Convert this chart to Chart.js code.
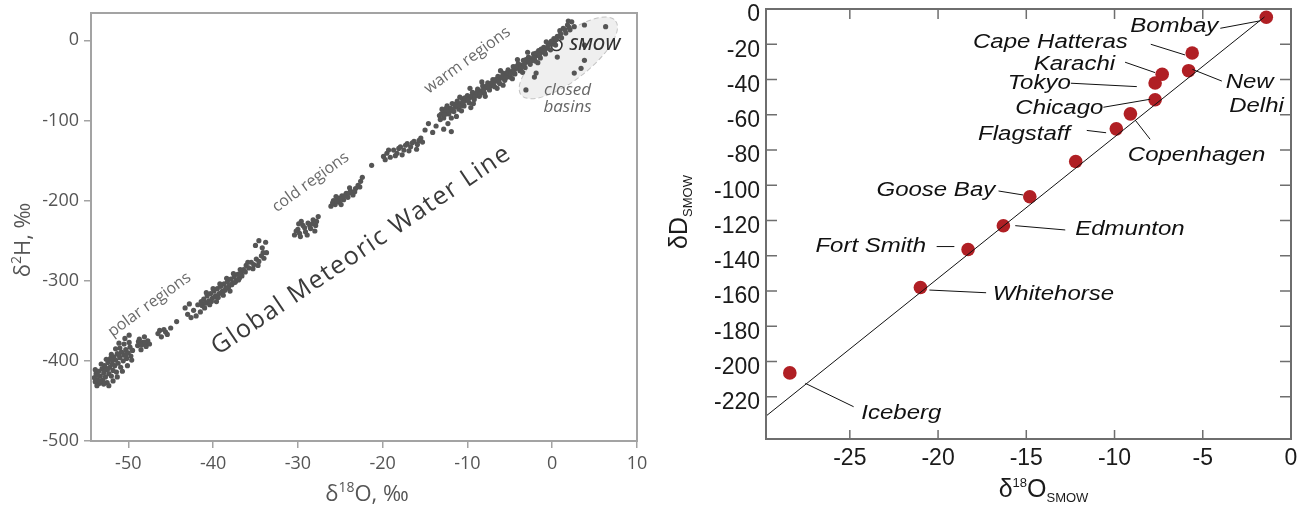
<!DOCTYPE html>
<html>
<head>
<meta charset="utf-8">
<script src="https://cdn.jsdelivr.net/npm/chart.js@4.4.0/dist/chart.umd.min.js"></script>
<style>
  body { margin: 0; background: #fff; }
  #wrap { position: relative; width: 1313px; height: 509px; }
  canvas { position: absolute; top: 0; }
  #gmwl { left: 0; }
  #cities { left: 660px; }
</style>
</head>
<body>
<div id="wrap">
  <canvas id="gmwl" width="660" height="509"></canvas>
  <canvas id="cities" width="653" height="509"></canvas>
</div>
<script>
// ---------- left panel: precipitation samples, d18O vs d2H ----------
const polarPts = [
  [-54.0,-421],[-53.9,-426],[-53.8,-416],[-53.6,-424],[-53.5,-413],[-53.4,-428],[-53.3,-419],[-53.1,-410],
  [-53.0,-424],[-52.9,-415],[-52.8,-406],[-52.7,-420],[-52.6,-411],[-52.5,-427],[-52.4,-402],[-52.3,-416],
  [-52.2,-408],[-52.1,-397],[-52.0,-419],[-51.9,-404],[-51.8,-412],[-51.7,-395],[-51.6,-406],[-51.5,-399],
  [-51.4,-414],[-51.3,-391],[-51.2,-403],[-51.1,-378],[-51.0,-396],[-50.9,-408],[-50.8,-389],[-50.6,-400],
  [-50.5,-393],[-50.4,-372],[-50.3,-386],[-50.2,-397],[-50.0,-390],[-49.9,-368],[-49.8,-383],[-49.7,-394],
  [-49.5,-387],[-48.9,-381],[-48.7,-373],[-48.5,-386],[-48.3,-377],[-48.1,-370],[-47.9,-382],[-47.7,-375],
  [-46.5,-366],[-46.1,-370],[-45.8,-361],[-45.4,-367],[-45.0,-359],[-44.3,-351],
  [-53.7,-431],[-53.2,-404],[-52.9,-429],[-52.6,-398],[-52.3,-431],[-52.0,-392],[-51.8,-425],[-51.5,-385],
  [-51.3,-420],[-51.0,-384],[-50.7,-413],[-50.5,-379],[-50.1,-406],[-49.9,-377],[-49.6,-399],[-53.9,-411],
  [-53.6,-418],[-53.3,-425],[-52.4,-410],[-51.9,-399],[-51.1,-393],[-50.3,-392],[-48.8,-376],[-48.4,-380],
  [-48.0,-377],[-47.5,-379],[-46.3,-362],[-45.6,-364]
];
const coldPts = [
  [-43.3,-334],[-43.0,-342],[-42.8,-329],[-42.6,-346],[-42.3,-337],[-42.0,-344],[-41.8,-330],[-41.5,-339],
  [-41.3,-331],[-41.1,-323],[-40.9,-328],[-40.7,-319],[-40.5,-325],[-40.3,-316],[-40.1,-322],[-39.9,-313],
  [-39.7,-319],[-39.5,-310],[-39.3,-316],[-39.1,-307],[-38.9,-313],[-38.7,-304],[-38.5,-309],[-38.3,-301],
  [-38.1,-306],[-37.9,-298],[-37.7,-303],[-37.5,-295],[-37.3,-300],[-37.1,-292],[-36.9,-297],[-36.7,-289],
  [-36.4,-286],[-36.1,-281],[-35.8,-284],[-35.5,-277],[-35.2,-280],[-34.9,-273],[-34.6,-276],[-34.3,-269],
  [-34.0,-272],[-33.7,-265],[-35.0,-256],[-34.6,-250],[-34.2,-259],[-33.8,-252],
  [-41.4,-326],[-41.0,-334],[-40.6,-327],[-40.2,-326],[-39.8,-320],[-39.4,-321],[-39.0,-315],[-38.6,-312],
  [-38.2,-309],[-37.8,-305],[-37.4,-302],[-37.0,-299],[-36.6,-294],[-36.2,-289],[-40.8,-315],[-40.0,-310],
  [-39.2,-304],[-38.4,-297],[-37.6,-291],[-36.8,-286],[-35.9,-277],[-35.3,-285],[-34.7,-281],[-34.1,-265],
  [-40.4,-330],[-39.6,-326],[-38.8,-318],[-38.0,-313],
  [-30.4,-243],[-30.0,-236],[-29.7,-245],[-29.4,-231],[-29.1,-239],[-28.8,-228],[-28.5,-235],[-28.2,-224],
  [-27.9,-231],[-27.6,-220],[-29.6,-226],[-28.0,-238],[-30.2,-238],[-29.8,-241],[-29.2,-234],[-28.6,-231],
  [-28.3,-229],[-27.8,-226],[-29.9,-229],[-28.9,-243],
  [-26.1,-207],[-25.8,-200],[-25.6,-205],[-25.3,-197],[-25.1,-202],[-24.8,-194],[-24.6,-199],[-24.3,-191],
  [-24.1,-196],[-23.8,-188],[-23.5,-193],[-23.2,-185],[-22.9,-181],[-22.6,-176],[-22.4,-171],[-21.3,-156],
  [-25.9,-203],[-25.4,-201],[-25.0,-197],[-24.5,-194],[-24.0,-191],[-23.6,-190],[-23.3,-189],[-24.9,-205],
  [-25.5,-195],[-23.9,-184],[-22.7,-183]
];
const warmPts = [
  [-19.9,-145],[-19.5,-141],[-19.1,-146],[-18.7,-137],[-18.3,-141],[-17.9,-133],[-17.5,-137],[-17.1,-129],
  [-16.7,-133],[-16.3,-126],[-15.9,-130],[-15.5,-122],[-17.7,-143],[-16.0,-136],[-19.7,-149],[-19.3,-137],
  [-18.5,-144],[-18.1,-135],[-17.3,-131],[-16.9,-138],[-16.5,-128],[-15.7,-125],[-15.3,-127],
  [-15.0,-112],[-14.6,-104],[-14.1,-115],[-13.7,-107],[-13.2,-99],[-12.8,-111],[-12.3,-104],[-11.9,-114],
  [-13.3,-94],[-13.0,-86],[-12.8,-97],[-12.6,-89],[-12.4,-82],[-12.2,-92],[-12.0,-85],[-11.8,-79],
  [-11.6,-89],[-11.4,-83],[-11.2,-76],[-11.0,-86],[-10.8,-79],[-10.6,-73],[-10.4,-82],[-10.2,-75],
  [-10.0,-69],[-9.8,-78],[-9.6,-71],[-9.4,-65],[-9.2,-74],[-9.0,-67],[-8.8,-61],[-8.6,-70],
  [-8.4,-63],[-8.2,-57],[-8.0,-66],[-7.8,-59],[-7.6,-53],[-7.4,-62],[-7.2,-55],[-7.0,-49],
  [-6.8,-58],[-6.6,-51],[-6.4,-45],[-6.2,-54],[-6.0,-47],[-5.8,-41],[-5.6,-50],[-5.4,-43],
  [-5.2,-37],[-5.0,-46],[-4.8,-39],[-4.6,-33],[-4.4,-42],[-4.2,-35],[-4.0,-29],[-3.8,-38],
  [-3.6,-31],[-3.4,-25],[-3.2,-34],[-3.0,-27],[-2.8,-21],[-2.6,-30],[-2.4,-23],[-2.2,-17],
  [-2.0,-26],[-1.8,-19],[-1.6,-13],[-1.4,-22],[-1.2,-15],[-1.0,-9],[-0.8,-17],[-0.6,-10],
  [-0.4,-4],[-0.2,-12],[0.0,-5],[0.2,2],[0.4,-6],[0.6,5],[0.9,12],[1.1,3],
  [1.3,15],[1.6,9],[1.8,19],[2.1,13],[2.3,23],[2.6,17],[1.9,24],
  [-12.9,-91],[-11.5,-80],[-10.1,-73],[-8.7,-66],[-7.3,-57],[-6.5,-49],[-5.1,-41],[-3.9,-33],
  [-2.5,-26],[-1.1,-13],[0.3,-1],[-5.8,-56],[-9.6,-84],[-11.3,-95],
  [-13.1,-92],[-12.7,-93],[-12.5,-85],[-12.1,-89],[-11.7,-86],[-11.3,-81],[-10.9,-82],[-10.5,-78],
  [-10.3,-72],[-9.9,-74],[-9.5,-69],[-9.1,-70],[-8.9,-65],[-8.5,-67],[-8.1,-62],[-7.7,-57],
  [-7.5,-60],[-7.1,-53],[-6.9,-56],[-6.7,-49],[-6.3,-51],[-5.9,-45],[-5.5,-47],[-5.3,-40],
  [-4.9,-42],[-4.5,-38],[-4.3,-33],[-3.7,-35],[-3.3,-30],[-3.1,-24],[-2.7,-26],[-2.1,-22],
  [-1.9,-16],[-1.5,-18],[-1.3,-11],[-0.9,-13],[-0.5,-7],[-0.1,-1],[0.5,1],[1.0,8],
  [1.5,13],[2.0,16],[-11.9,-97],[-10.7,-88],[-9.3,-79],[-7.9,-70],[-6.5,-60],[-4.7,-48],
  [-3.5,-40],[-1.7,-28],[-10.9,-71],[-9.7,-60],[-8.3,-52],[-6.1,-38],[-4.1,-24],[-2.9,-15],[-0.7,-2]
];
const basinPts = [
  [3.8,19],[6.3,17],[3.8,-6],[3.8,-25],[3.4,-35],[2.6,-41],[-1.9,-41],[-2.1,-46],[-3.1,-62],[0.6,-21]
];
const smowPt = [0.5, -6];
const leftXTicks = [-50, -40, -30, -20, -10, 0, 10];
const leftYTicks = [0, -100, -200, -300, -400, -500];

// ---------- right panel: station means ----------
const stations = ["Bombay", "Cape Hatteras", "New Delhi", "Karachi", "Tokyo", "Chicago", "Copenhagen",
  "Flagstaff", "", "Goose Bay", "Edmunton", "Fort Smith", "Whitehorse", "Iceberg"];
const stationO = [-1.4, -5.6, -5.8, -7.3, -7.7, -7.7, -9.1, -9.9, -12.2, -14.8, -16.3, -18.3, -21.0, -28.4];
const stationD = [-4.7, -25, -35, -37, -42, -51.5, -59.5, -68, -86.5, -106.5, -123, -136.5, -158, -206.5];
const mwlO = [-29.75, -1.5];
const mwlD = [-231, -4.5];
const rightXTicks = [-25, -20, -15, -10, -5, 0];
const rightYTicks = [0, -20, -40, -60, -80, -100, -120, -140, -160, -180, -200, -220];

// ---------- annotation placement ----------
const regionNotes = [
  { text: "polar regions", x: -47.5, y: -330, angle: -36 },
  { text: "cold regions", x: -28.5, y: -177, angle: -36 },
  { text: "warm regions", x: -10.0, y: -25, angle: -36 }
];
const lineNote = { text: "Global Meteoric Water Line", x: -22.5, y: -262, angle: -34 };
const basinOutline = { x: 1.9, y: -22, rx: 60, ry: 22, angle: -38 };
const basinNote = { lines: ["closed", "basins"], x: 1.8, y: -62, gap: 17.5 };
const smowNote = { text: "SMOW", x: 2.0, y: -6 };

// label offsets in px from each station dot: text anchor + leader line
const callouts = {
  "Bombay":        { tx: -48,   ty: 9.4,  align: "right", lead: [-46, 11, -6, 3.5] },
  "Cape Hatteras": { tx: -64.4, ty: -10.4, align: "right", lead: [-41.4, -8.8, -7.1, 1.9] },
  "New Delhi":     { tx: 37, ty: 12, align: "left", lines: ["New", "Delhi"], gap: 24, indent: 3.5, lead: [3.8, -1.3, 33.2, 10.4] },
  "Karachi":       { tx: -47.1, ty: -9.3, align: "right", lead: [-37.1, -12, -7.1, -1.6] },
  "Tokyo":         { tx: -84.3, ty: 0.2,  align: "right", lead: [-84.3, 0.2, -18.3, 3.6] },
  "Chicago":       { tx: -51.7, ty: 8.5,  align: "right", lead: [-51.7, 7.5, -5, -0.5] },
  "Copenhagen":    { tx: -2.6,  ty: 41.1, align: "left",  lead: [4.7, 6.1, 19.7, 25.4] },
  "Flagstaff":     { tx: -46.2, ty: 5.6,  align: "right", lead: [-29.5, 1.6, -10.2, 3.9] },
  "Goose Bay":     { tx: -34.6, ty: -6.7, align: "right", lead: [-31.3, -5.7, -6.6, -1.7] },
  "Edmunton":      { tx: 71.9,  ty: 3.5,  align: "left",  lead: [11.9, -0.1, 61.9, 4.2] },
  "Fort Smith":    { tx: -42,   ty: -3.6, align: "right", lead: [-31.4, -3, -13.7, -3] },
  "Whitehorse":    { tx: 72.3,  ty: 6.6,  align: "left",  lead: [9, 2.6, 65.7, 5.3] },
  "Iceberg":       { tx: 71.5,  ty: 40.4, align: "left",  lead: [15.5, 10.4, 63.8, 33.8] }
};

const toXY = pts => pts.map(p => ({ x: p[0], y: p[1] }));
const deg = a => a * Math.PI / 180;

// draws a run of text pieces (for sub/superscripts), centred on x
function drawRich(ctx, parts, x, y) {
  let total = 0;
  parts.forEach(p => { ctx.font = p.font; total += ctx.measureText(p.t).width; });
  let cx = x - total / 2;
  ctx.textAlign = "left";
  ctx.textBaseline = "alphabetic";
  parts.forEach(p => {
    ctx.font = p.font;
    ctx.fillText(p.t, cx, y + (p.dy || 0));
    cx += ctx.measureText(p.t).width;
  });
}

const SANS = "'Open Sans', 'Noto Sans', sans-serif";
const ARIAL = "'Liberation Sans', Arial, sans-serif";

// ---------- left chart ----------
const leftDecor = {
  id: "leftDecor",
  beforeDatasetsDraw(chart) {
    const { ctx, scales: { x, y } } = chart;
    const b = basinOutline;
    ctx.save();
    ctx.translate(x.getPixelForValue(b.x), y.getPixelForValue(b.y));
    ctx.rotate(deg(b.angle));
    ctx.beginPath();
    ctx.ellipse(0, 0, b.rx, b.ry, 0, 0, Math.PI * 2);
    ctx.fillStyle = "#efefef";
    ctx.fill();
    ctx.setLineDash([5, 3]);
    ctx.strokeStyle = "#c4c4c4";
    ctx.lineWidth = 1;
    ctx.stroke();
    ctx.restore();
  },
  afterDatasetsDraw(chart) {
    const { ctx, scales: { x, y } } = chart;
    ctx.save();
    ctx.textAlign = "center";
    ctx.textBaseline = "middle";

    ctx.fillStyle = "#6a6a6a";
    ctx.font = "16px " + SANS;
    regionNotes.forEach(n => {
      ctx.save();
      ctx.translate(x.getPixelForValue(n.x), y.getPixelForValue(n.y));
      ctx.rotate(deg(n.angle));
      ctx.fillText(n.text, 0, 0);
      ctx.restore();
    });

    ctx.save();
    ctx.fillStyle = "#3a3a3a";
    ctx.font = "25px " + SANS;
    ctx.letterSpacing = "1.5px";
    ctx.translate(x.getPixelForValue(lineNote.x), y.getPixelForValue(lineNote.y));
    ctx.rotate(deg(lineNote.angle));
    ctx.fillText(lineNote.text, 0, 0);
    ctx.restore();

    ctx.fillStyle = "#666";
    ctx.font = "italic 17px " + SANS;
    const bx = x.getPixelForValue(basinNote.x), by = y.getPixelForValue(basinNote.y);
    basinNote.lines.forEach((t, i) => ctx.fillText(t, bx, by + i * basinNote.gap));

    ctx.fillStyle = "#333";
    ctx.font = "italic 600 17px " + SANS;
    ctx.textAlign = "left";
    ctx.fillText(smowNote.text, x.getPixelForValue(smowNote.x), y.getPixelForValue(smowNote.y));
    ctx.restore();
  },
  afterDraw(chart) {
    const { ctx, chartArea: a } = chart;
    ctx.save();
    ctx.strokeStyle = "#a3a3a3";
    ctx.lineWidth = 2;
    ctx.strokeRect(a.left, a.top, a.right - a.left, a.bottom - a.top);

    ctx.fillStyle = "#555";
    const big = "22px " + SANS, small = "14px " + SANS;
    drawRich(ctx, [{ t: "δ", font: big }, { t: "18", font: small, dy: -9 }, { t: "O, ‰", font: big }],
      (a.left + a.right) / 2 + 3, 501);
    ctx.translate(30, (a.top + a.bottom) / 2 + 13);
    ctx.rotate(-Math.PI / 2);
    drawRich(ctx, [{ t: "δ", font: big }, { t: "2", font: small, dy: -9 }, { t: "H, ‰", font: big }], 0, 0);
    ctx.restore();
  }
};

const leftAxis = (ticks, fit) => ({
  type: "linear",
  afterBuildTicks: s => { s.ticks = ticks.map(v => ({ value: v })); },
  afterFit: fit,
  grid: { display: true, drawOnChartArea: false, drawTicks: true, tickLength: 7, color: "#a3a3a3", lineWidth: 1.5 },
  border: { display: false },
  ticks: { font: { family: SANS, size: 18 }, color: "#555", padding: 5, maxRotation: 0 }
});

const dot = { pointRadius: 2.6, pointBackgroundColor: "#555", pointBorderWidth: 0 };

new Chart(document.getElementById("gmwl"), {
  type: "scatter",
  data: {
    datasets: [
      { label: "polar", data: toXY(polarPts), ...dot },
      { label: "cold", data: toXY(coldPts), ...dot },
      { label: "warm", data: toXY(warmPts), ...dot },
      { label: "closed basins", data: toXY(basinPts), ...dot },
      { label: "SMOW", data: toXY([smowPt]), pointRadius: 5.5, pointBackgroundColor: "#fff",
        pointBorderColor: "#333", pointBorderWidth: 1.6 }
    ]
  },
  options: {
    responsive: false,
    animation: false,
    devicePixelRatio: 1,
    layout: { padding: { top: 13, right: 23, left: 0, bottom: 0 } },
    plugins: { legend: { display: false }, tooltip: { enabled: false } },
    scales: {
      x: { ...leftAxis(leftXTicks, s => { s.height = 68; s.paddingLeft = 0; s.paddingRight = 0; }), min: -54.4, max: 10 },
      y: { ...leftAxis(leftYTicks, s => { s.width = 91; s.paddingTop = 0; s.paddingBottom = 0; }), min: -500, max: 34 }
    }
  },
  plugins: [leftDecor]
});

// ---------- right chart ----------
const rightDecor = {
  id: "rightDecor",
  afterDatasetsDraw(chart) {
    const { ctx, scales: { x, y } } = chart;
    ctx.save();
    ctx.strokeStyle = "#111";
    ctx.fillStyle = "#111";
    ctx.lineWidth = 1;
    ctx.font = "italic 20px " + ARIAL;
    ctx.textBaseline = "middle";
    stations.forEach((name, i) => {
      const c = callouts[name];
      if (!c) return;
      const px = x.getPixelForValue(stationO[i]);
      const py = y.getPixelForValue(stationD[i]);
      ctx.beginPath();
      ctx.moveTo(px + c.lead[0], py + c.lead[1]);
      ctx.lineTo(px + c.lead[2], py + c.lead[3]);
      ctx.stroke();
      const lines = c.lines || [name];
      lines.forEach((t, k) => {
        ctx.save();
        ctx.translate(px + c.tx + (k ? (c.indent || 0) : 0), py + c.ty + k * (c.gap || 0));
        ctx.scale(1.2, 1);
        ctx.textAlign = c.align;
        ctx.fillText(t, 0, 0);
        ctx.restore();
      });
    });
    ctx.restore();
  },
  afterDraw(chart) {
    const { ctx, chartArea: a, scales: { x, y } } = chart;
    ctx.save();
    ctx.strokeStyle = "#6e6e6e";
    ctx.lineWidth = 2;
    ctx.strokeRect(a.left, a.top, a.right - a.left, a.bottom - a.top);
    ctx.lineWidth = 1.5;
    ctx.beginPath();
    x.ticks.forEach(t => {
      const px = x.getPixelForValue(t.value);
      if (px < a.left + 2 || px > a.right - 2) return;
      ctx.moveTo(px, a.top); ctx.lineTo(px, a.top + 10);
      ctx.moveTo(px, a.bottom); ctx.lineTo(px, a.bottom - 9);
    });
    y.ticks.forEach(t => {
      const py = y.getPixelForValue(t.value);
      if (py < a.top + 2 || py > a.bottom - 2) return;
      ctx.moveTo(a.left, py); ctx.lineTo(a.left + 11, py);
      ctx.moveTo(a.right, py); ctx.lineTo(a.right - 11, py);
    });
    ctx.stroke();

    ctx.fillStyle = "#1a1a1a";
    const big = "25px " + ARIAL, small = "13px " + ARIAL;
    drawRich(ctx, [{ t: "δ", font: big }, { t: "18", font: small, dy: -10 }, { t: "O", font: big },
      { t: "SMOW", font: small, dy: 5 }], (a.left + a.right) / 2 + 15, 497);
    ctx.translate(27, 212);
    ctx.rotate(-Math.PI / 2);
    drawRich(ctx, [{ t: "δD", font: big }, { t: "SMOW", font: small, dy: 5 }], 0, 0);
    ctx.restore();
  }
};

const rightAxis = (ticks, fit, extra) => ({
  type: "linear",
  afterBuildTicks: s => { s.ticks = ticks.map(v => ({ value: v })); },
  afterFit: fit,
  grid: { display: false, drawTicks: false },
  border: { display: false },
  ticks: { font: { family: ARIAL, size: 23 }, color: "#1a1a1a", maxRotation: 0, ...extra }
});

new Chart(document.getElementById("cities"), {
  type: "scatter",
  data: {
    datasets: [
      { label: "meteoric water line", data: mwlO.map((v, i) => ({ x: v, y: mwlD[i] })), showLine: true,
        borderColor: "#111", borderWidth: 1, pointRadius: 0, order: 0 },
      { label: "stations", data: stationO.map((v, i) => ({ x: v, y: stationD[i] })), pointRadius: 6.8,
        pointBackgroundColor: "#b01f24", pointBorderWidth: 0, order: 1 }
    ]
  },
  options: {
    responsive: false,
    animation: false,
    devicePixelRatio: 1,
    layout: { padding: { top: 9, right: 22, left: 0, bottom: 0 } },
    plugins: { legend: { display: false }, tooltip: { enabled: false } },
    scales: {
      x: { ...rightAxis(rightXTicks, s => { s.height = 70; s.paddingLeft = 0; s.paddingRight = 0; }, { padding: 6 }),
        min: -29.75, max: 0 },
      y: { ...rightAxis(rightYTicks, s => { s.width = 106; s.paddingTop = 0; s.paddingBottom = 0; }, { padding: 6, labelOffset: 6 }),
        min: -244, max: 0 }
    }
  },
  plugins: [rightDecor]
});
</script>
</body>
</html>
